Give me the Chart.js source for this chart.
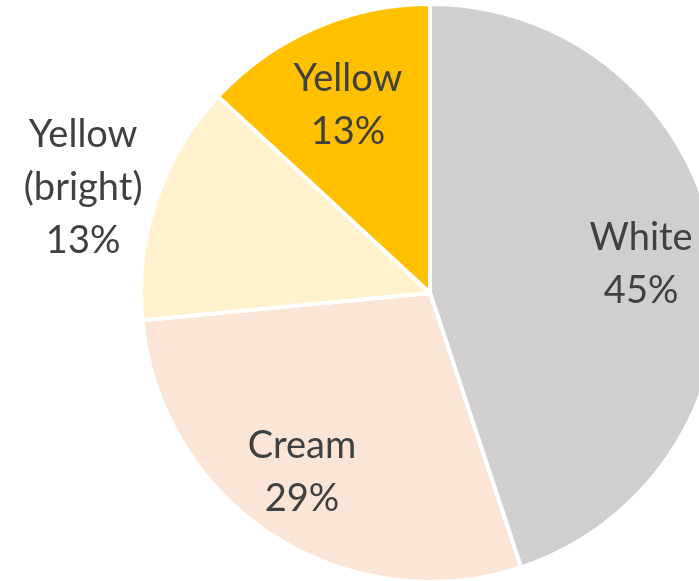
<!DOCTYPE html>
<html>
<head>
<meta charset="utf-8">
<script src="https://cdn.jsdelivr.net/npm/chart.js@4/dist/chart.umd.min.js"></script>
<style>
  html, body { margin: 0; padding: 0; background: #fff; overflow: hidden; }
  #wrap { width: 860px; height: 600px; }
</style>
</head>
<body>
<div id="wrap"><canvas id="pie" width="860" height="600"></canvas></div>
<script>
// Colour shares (percent)
const categories = ['White', 'Cream', 'Yellow (bright)', 'Yellow'];
const labelLines = [['White'], ['Cream'], ['Yellow', '(bright)'], ['Yellow']];
const shares = [44.9, 28.6, 13.4, 13.1];
const sliceColors = ['#D0CECE', '#FBE5D6', '#FFF2CC', '#FFC000'];

// label placement: fraction of the radius along the slice middle, plus a nudge in px
const labelRadius = [0.74, 0.76, 1.26, 0.71];
const labelNudge = [[0, 5], [-8, -5], [-2, 12], [0, 0]];

const sliceLabels = {
  id: 'sliceLabels',
  afterDatasetsDraw(chart) {
    const ctx = chart.ctx;
    const meta = chart.getDatasetMeta(0);
    const total = shares.reduce((a, b) => a + b, 0);
    ctx.save();
    ctx.font = '38px Lato, "Open Sans", sans-serif';
    ctx.fillStyle = '#404040';
    ctx.textAlign = 'center';
    ctx.textBaseline = 'middle';
    meta.data.forEach((arc, i) => {
      const mid = (arc.startAngle + arc.endAngle) / 2;
      const r = arc.outerRadius * labelRadius[i];
      const x = arc.x + Math.cos(mid) * r + labelNudge[i][0];
      const y = arc.y + Math.sin(mid) * r + labelNudge[i][1];
      const lines = labelLines[i].concat([Math.round(shares[i] / total * 100) + '%']);
      const lh = 53;
      const top = y - (lines.length - 1) * lh / 2;
      lines.forEach((t, k) => ctx.fillText(t, x, top + k * lh));
    });
    ctx.restore();
  }
};

new Chart(document.getElementById('pie'), {
  type: 'pie',
  data: {
    labels: categories,
    datasets: [{
      data: shares,
      backgroundColor: sliceColors,
      borderColor: '#ffffff',
      borderWidth: 4
    }]
  },
  options: {
    responsive: false,
    animation: false,
    devicePixelRatio: 1,
    radius: 289,
    layout: { padding: { top: 0, bottom: 14, left: 0, right: 0 } },
    plugins: {
      legend: { display: false },
      tooltip: { enabled: false }
    }
  },
  plugins: [sliceLabels]
});
</script>
</body>
</html>
